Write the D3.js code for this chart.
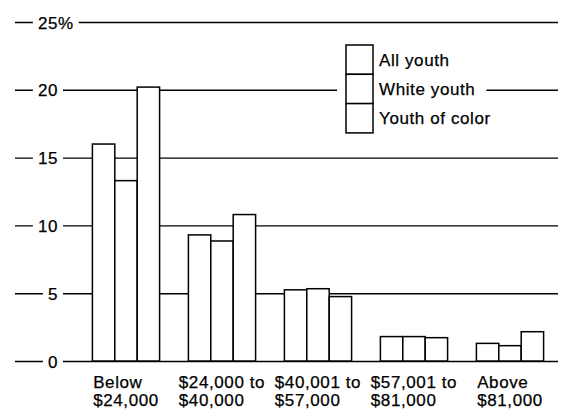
<!DOCTYPE html>
<html>
<head>
<meta charset="utf-8">
<script src="https://cdn.jsdelivr.net/npm/d3@7/dist/d3.min.js"></script>
<style>
  html, body { margin: 0; padding: 0; background: #fff; }
  svg { display: block; }
  text { font-family: "Liberation Sans", Arial, Helvetica, sans-serif; font-size: 17px; letter-spacing: 0.6px; fill: #000; stroke: #000; stroke-width: 0.25px; }
</style>
</head>
<body>
<svg id="chart" width="566" height="412"></svg>
<script>
// ---- data ----
const categories = [["Below", "$24,000"], ["$24,000 to", "$40,000"], ["$40,001 to", "$57,000"], ["$57,001 to", "$81,000"], ["Above", "$81,000"]];
const seriesNames = ["All youth", "White youth", "Youth of color"];
const allYouth = [16.0, 9.3, 5.25, 1.8, 1.3];
const whiteYouth = [13.3, 8.85, 5.33, 1.8, 1.13];
const youthOfColor = [20.2, 10.8, 4.75, 1.72, 2.16];
const yTicks = [0, 5, 10, 15, 20, 25];

const seriesValues = [allYouth, whiteYouth, youthOfColor];

const svg = d3.select("#chart");

const y = d3.scaleLinear().domain([0, 25]).range([361, 22]);
const x = d3.scaleBand().domain(d3.range(categories.length)).range([78, 558]).paddingInner(0.3).paddingOuter(0.15);
const xs = d3.scaleBand().domain(d3.range(seriesNames.length)).range([0, x.bandwidth()]);

const lineLeft = 15, lineRight = 558, labelRight = 58;

// ---- y axis with gridlines ----
const axisG = svg.append("g").attr("transform", `translate(${labelRight},0)`);
axisG.call(d3.axisLeft(y).tickValues(yTicks).tickSize(0).tickPadding(0).tickFormat(d => String(d)));
axisG.select(".domain").remove();
axisG.attr("font-size", null).attr("font-family", null);
axisG.selectAll(".tick text").attr("dy", "0.36em").attr("fill", "#000");
axisG.selectAll(".tick").each(function(d) {
  const t = d3.select(this);
  if (d === 25) {
    t.append("text").attr("x", 0).attr("dy", "0.36em").attr("text-anchor", "start").text("%");
  }
  let x0 = Infinity, x1 = -Infinity;
  t.selectAll("text").each(function() {
    const b = this.getBBox();
    x0 = Math.min(x0, b.x); x1 = Math.max(x1, b.x + b.width);
  });
  t.insert("rect", ":first-child")
    .attr("x", x0 - 5).attr("y", -8).attr("width", (x1 - x0) + 10).attr("height", 16)
    .attr("fill", "#fff");
  t.insert("line", ":first-child")
    .attr("x1", lineLeft - labelRight).attr("x2", lineRight - labelRight)
    .attr("y1", 0).attr("y2", 0)
    .attr("stroke", "#000").attr("stroke-width", 1.4);
});

// ---- bars ----
const barsG = svg.append("g");
categories.forEach((c, i) => {
  const g = barsG.append("g").attr("transform", `translate(${x(i)},0)`);
  g.selectAll("rect").data(seriesValues.map(s => s[i])).join("rect")
    .attr("x", (d, j) => xs(j))
    .attr("y", d => y(d))
    .attr("width", xs.bandwidth())
    .attr("height", d => y(0) - y(d))
    .attr("fill", "#fff")
    .attr("stroke", "#000")
    .attr("stroke-width", 1.5);
});

// ---- category labels ----
const labG = svg.append("g");
categories.forEach((c, i) => {
  const t = labG.append("text").attr("text-anchor", "start");
  t.selectAll("tspan").data(c).join("tspan")
    .attr("x", 0)
    .attr("y", (d, k) => 388 + k * 18)
    .text(d => d);
  const w = t.node().getBBox().width;
  t.attr("transform", `translate(${x(i) + x.bandwidth() / 2 - w / 2},0)`);
});

// ---- legend ----
const legX = 346, legY = 45, boxW = 27, boxH = 29.3;
const legG = svg.append("g");
const legBg = legG.append("rect").attr("fill", "#fff");
const items = legG.selectAll("g.item").data(seriesNames).join("g").attr("class", "item")
  .attr("transform", (d, i) => `translate(${legX},${legY + i * boxH})`);
items.append("rect").attr("width", boxW).attr("height", boxH)
  .attr("fill", "#fff").attr("stroke", "#000").attr("stroke-width", 1.5);
items.append("text").attr("x", boxW + 6).attr("y", boxH / 2).attr("dy", "0.36em").text(d => d);
// background gap sized to the row that crosses the 20% gridline
const midText = items.filter((d, i) => i === 1).select("text").node().getBBox();
legBg.attr("x", legX - 9).attr("y", legY - 4)
  .attr("width", midText.x + midText.width + 9 + 11).attr("height", boxH * 3 + 8);
</script>
</body>
</html>
